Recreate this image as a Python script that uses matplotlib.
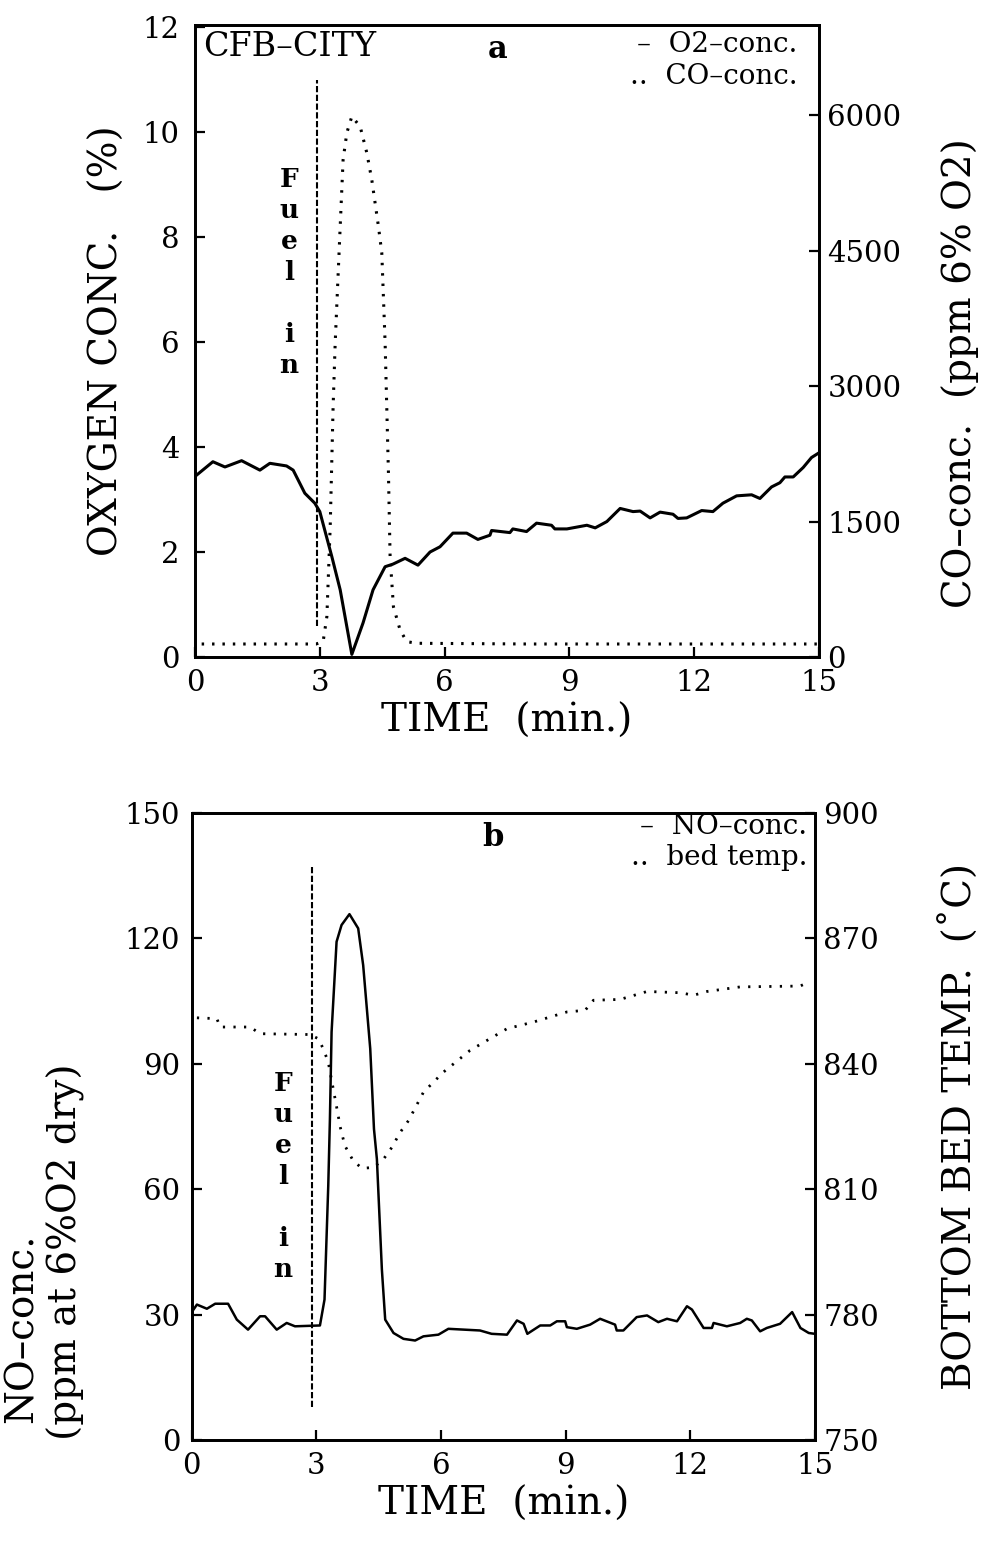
import matplotlib
matplotlib.use("Agg")
import matplotlib.pyplot as plt

plt.rcParams["font.family"] = ["DejaVu Serif"]

# ---- panel a: O2 (left axis, %) and CO (right axis, ppm) ----
o2_t = [0.00, 0.43, 0.72, 1.12, 1.56, 1.80, 2.20, 2.36, 2.64, 2.88, 3.00, 3.29, 3.49,
        3.77, 4.04, 4.28, 4.57, 4.76, 5.05, 5.36, 5.65, 5.89, 6.20, 6.53, 6.80, 7.09,
        7.13, 7.57, 7.64, 7.97, 8.21, 8.57, 8.65, 8.94, 9.42, 9.62, 9.90, 10.22, 10.53,
        10.70, 10.94, 11.18, 11.49, 11.61, 11.82, 12.18, 12.45, 12.69, 13.02, 13.38,
        13.58, 13.86, 14.06, 14.18, 14.38, 14.62, 14.82, 14.98]
o2 = [3.44, 3.72, 3.62, 3.74, 3.56, 3.69, 3.64, 3.56, 3.12, 2.93, 2.77, 1.91, 1.28,
      0.05, 0.65, 1.28, 1.72, 1.77, 1.88, 1.75, 2.00, 2.10, 2.36, 2.36, 2.24, 2.32,
      2.41, 2.37, 2.44, 2.39, 2.55, 2.51, 2.44, 2.44, 2.51, 2.46, 2.58, 2.83, 2.77,
      2.78, 2.65, 2.76, 2.72, 2.64, 2.65, 2.79, 2.77, 2.93, 3.07, 3.09,
      3.02, 3.24, 3.32, 3.43, 3.43, 3.61, 3.80, 3.88]

co_t = [0.16, 1.32, 2.52, 2.91, 3.08, 3.17, 3.25, 3.32, 3.37, 3.49, 3.56, 3.65, 3.77,
        3.97, 4.13, 4.25, 4.41, 4.49, 4.57, 4.65, 4.69, 4.77, 4.93, 5.09, 5.33, 8.0,
        11.0, 14.98]
co = [144, 144, 144, 144, 170, 448, 1444, 2773, 3479, 4768, 5507, 5806, 5987,
      5876, 5584, 5285, 4768, 4476, 3479, 2039, 1111, 557, 299, 170, 152, 144,
      144, 144]

# ---- panel b: NO (left axis, ppm) and bed temperature (right axis, C) ----
no_t = [0.00, 0.13, 0.37, 0.57, 0.88, 1.09, 1.36, 1.65, 1.77, 2.05, 2.29, 2.49, 3.09,
        3.20, 3.29, 3.33, 3.37, 3.49, 3.61, 3.80, 4.01, 4.13, 4.30, 4.39, 4.46, 4.58,
        4.66, 4.86, 5.10, 5.38, 5.58, 5.94, 6.18, 6.94, 7.22, 7.59, 7.83, 7.99, 8.08,
        8.39, 8.63, 8.79, 8.99, 9.03, 9.27, 9.59, 9.83, 10.19, 10.23, 10.39, 10.71,
        10.96, 11.23, 11.44, 11.68, 11.92, 12.04, 12.32, 12.52, 12.56, 12.88, 13.20,
        13.36, 13.48, 13.68, 13.84, 14.16, 14.45, 14.65, 14.85, 15.00]
no = [30.5, 32.4, 31.4, 32.6, 32.6, 28.8, 26.4, 29.6, 29.6, 26.4, 28.0, 27.2, 27.4,
      33.6, 60.8, 76.8, 97.6, 119.2, 123.2, 125.8, 122.4, 113.6, 93.6, 74.4, 67.2, 40.8,
      28.8, 25.6, 24.2, 23.8, 24.8, 25.2, 26.6, 26.2, 25.4, 25.2, 28.6, 27.8, 25.4,
      27.4, 27.4, 28.4, 28.4, 27.0, 26.6, 27.6, 29.0, 27.6, 26.2, 26.2, 29.4,
      29.8, 28.2, 29.0, 28.4, 32.0, 31.2, 26.8, 26.8, 28.0, 27.2, 28.0,
      29.0, 28.6, 26.0, 26.8, 27.8, 30.6, 26.8, 25.6, 25.4]

bed_t = [0.13, 0.61, 0.69, 1.41, 1.65, 2.85, 3.05, 3.17, 3.29, 3.41, 3.53, 3.57, 3.69,
         3.89, 4.10, 4.38, 4.62, 4.82, 5.02, 5.22, 5.58, 6.06, 6.70, 7.59, 8.23, 9.03,
         9.47, 9.67, 10.31, 10.79, 10.96, 11.76, 12.08, 12.40, 13.20, 14.64, 14.89]
bed = [851.0, 850.8, 848.8, 848.8, 847.2, 847.0, 846.0, 843.6, 840.4, 834.0, 827.6,
       825.2, 820.4, 816.8, 815.0, 815.2, 817.2, 820.0, 823.6, 826.4, 833.2, 838.0,
       843.2, 848.4, 850.0, 852.4, 852.8, 855.2, 855.4, 856.8, 857.3, 857.0, 856.4,
       857.3, 858.4, 858.6, 859.7]

x_ticks = [0, 3, 6, 9, 12, 15]
o2_ticks = [0, 2, 4, 6, 8, 10, 12]
co_ticks = [0, 1500, 3000, 4500, 6000]
no_ticks = [0, 30, 60, 90, 120, 150]
bed_ticks = [750, 780, 810, 840, 870, 900]

fuel_a = (2.93, 0.6, 11.0)   # time, y from, y to (left axis units)
fuel_b = (2.91, 8.0, 137.6)
fuel_text = "F\nu\ne\nl\n\ni\nn"

fig = plt.figure(figsize=(9.84, 15.44), dpi=100)
ax1 = fig.add_axes([195 / 984, 1 - 657 / 1544, 624 / 984, 632 / 1544])
ax3 = fig.add_axes([191.5 / 984, 1 - 1440 / 1544, 623.5 / 984, 627 / 1544])
ax2 = ax1.twinx()
ax4 = ax3.twinx()

tick_kw = dict(direction="in", length=7, width=1.6, labelsize=21)
lw_spine = 2.0
lab = 28


def style(ax):
    for s in ax.spines.values():
        s.set_linewidth(lw_spine)
    ax.tick_params(**tick_kw)


# panel a
ax1.plot(o2_t, o2, color="black", lw=2.2)
ax2.plot(co_t, co, color="black", lw=2.2, linestyle=(0, (0.8, 2.6)))
ax1.vlines(fuel_a[0], fuel_a[1], fuel_a[2], color="black", lw=1.5,
           linestyles=[(0, (3, 1.2))])
ax1.set_xlim(0, 15)
ax1.set_ylim(0, 12.04)
ax2.set_ylim(0, 7000)
ax1.set_xticks(x_ticks)
ax1.set_yticks(o2_ticks)
ax2.set_yticks(co_ticks)
style(ax1)
style(ax2)
ax1.tick_params(axis="x", pad=9)
ax1.tick_params(axis="y", pad=11)
ax2.tick_params(axis="y", pad=6)
ax1.set_xlabel("TIME  (min.)", fontsize=lab, labelpad=4)
ax1.set_ylabel("OXYGEN CONC.   (%)", fontsize=lab, labelpad=12)
ax2.set_ylabel("CO–conc.  (ppm 6% O2)", fontsize=lab)
ax2.yaxis.set_label_coords(1.196, 0.45)
ax1.text(0.013, 0.99, "CFB–CITY", transform=ax1.transAxes, fontsize=24,
         va="top", ha="left")
ax1.text(0.485, 0.985, "a", transform=ax1.transAxes, fontsize=22,
         fontweight="bold", va="top", ha="center")
ax1.text(0.965, 0.99, "–  O2–conc.\n..  CO–conc.", transform=ax1.transAxes,
         fontsize=20, va="top", ha="right", linespacing=1.2)
ax1.text(2.26, 9.33, fuel_text, fontsize=19, fontweight="bold",
         ha="center", va="top", linespacing=1.3)

# panel b
ax3.plot(no_t, no, color="black", lw=1.8)
ax4.plot(bed_t, bed, color="black", lw=2.0, linestyle=(0, (0.8, 3.0)))
ax3.vlines(fuel_b[0], fuel_b[1], fuel_b[2], color="black", lw=1.5,
           linestyles=[(0, (3, 1.2))])
ax3.set_xlim(0, 15)
ax3.set_ylim(0, 150)
ax4.set_ylim(750, 900)
ax3.set_xticks(x_ticks)
ax3.set_yticks(no_ticks)
ax4.set_yticks(bed_ticks)
style(ax3)
style(ax4)
ax3.tick_params(axis="x", pad=9)
ax3.tick_params(axis="y", pad=8)
ax4.tick_params(axis="y", pad=6)
ax3.set_xlabel("TIME  (min.)", fontsize=lab, labelpad=4)
ax4.set_ylabel("BOTTOM BED TEMP.  (˚C)", fontsize=lab)
ax4.yaxis.set_label_coords(1.2, 0.5)
fig.text(22 / 984, 1 - 1423 / 1544, "NO–conc.", rotation=90, fontsize=lab,
         ha="center", va="bottom")
fig.text(66 / 984, 1 - 1440 / 1544, "(ppm at 6%O2 dry)", rotation=90, fontsize=lab,
         ha="center", va="bottom")
ax3.text(0.484, 0.985, "b", transform=ax3.transAxes, fontsize=22,
         fontweight="bold", va="top", ha="center")
ax3.text(0.988, 1.0, "–  NO–conc.\n..  bed temp.", transform=ax3.transAxes,
         fontsize=20, va="top", ha="right", linespacing=1.2)
ax3.text(2.2, 88.3, fuel_text, fontsize=19, fontweight="bold",
         ha="center", va="top", linespacing=1.3)

fig.savefig("out.png", dpi=100)
